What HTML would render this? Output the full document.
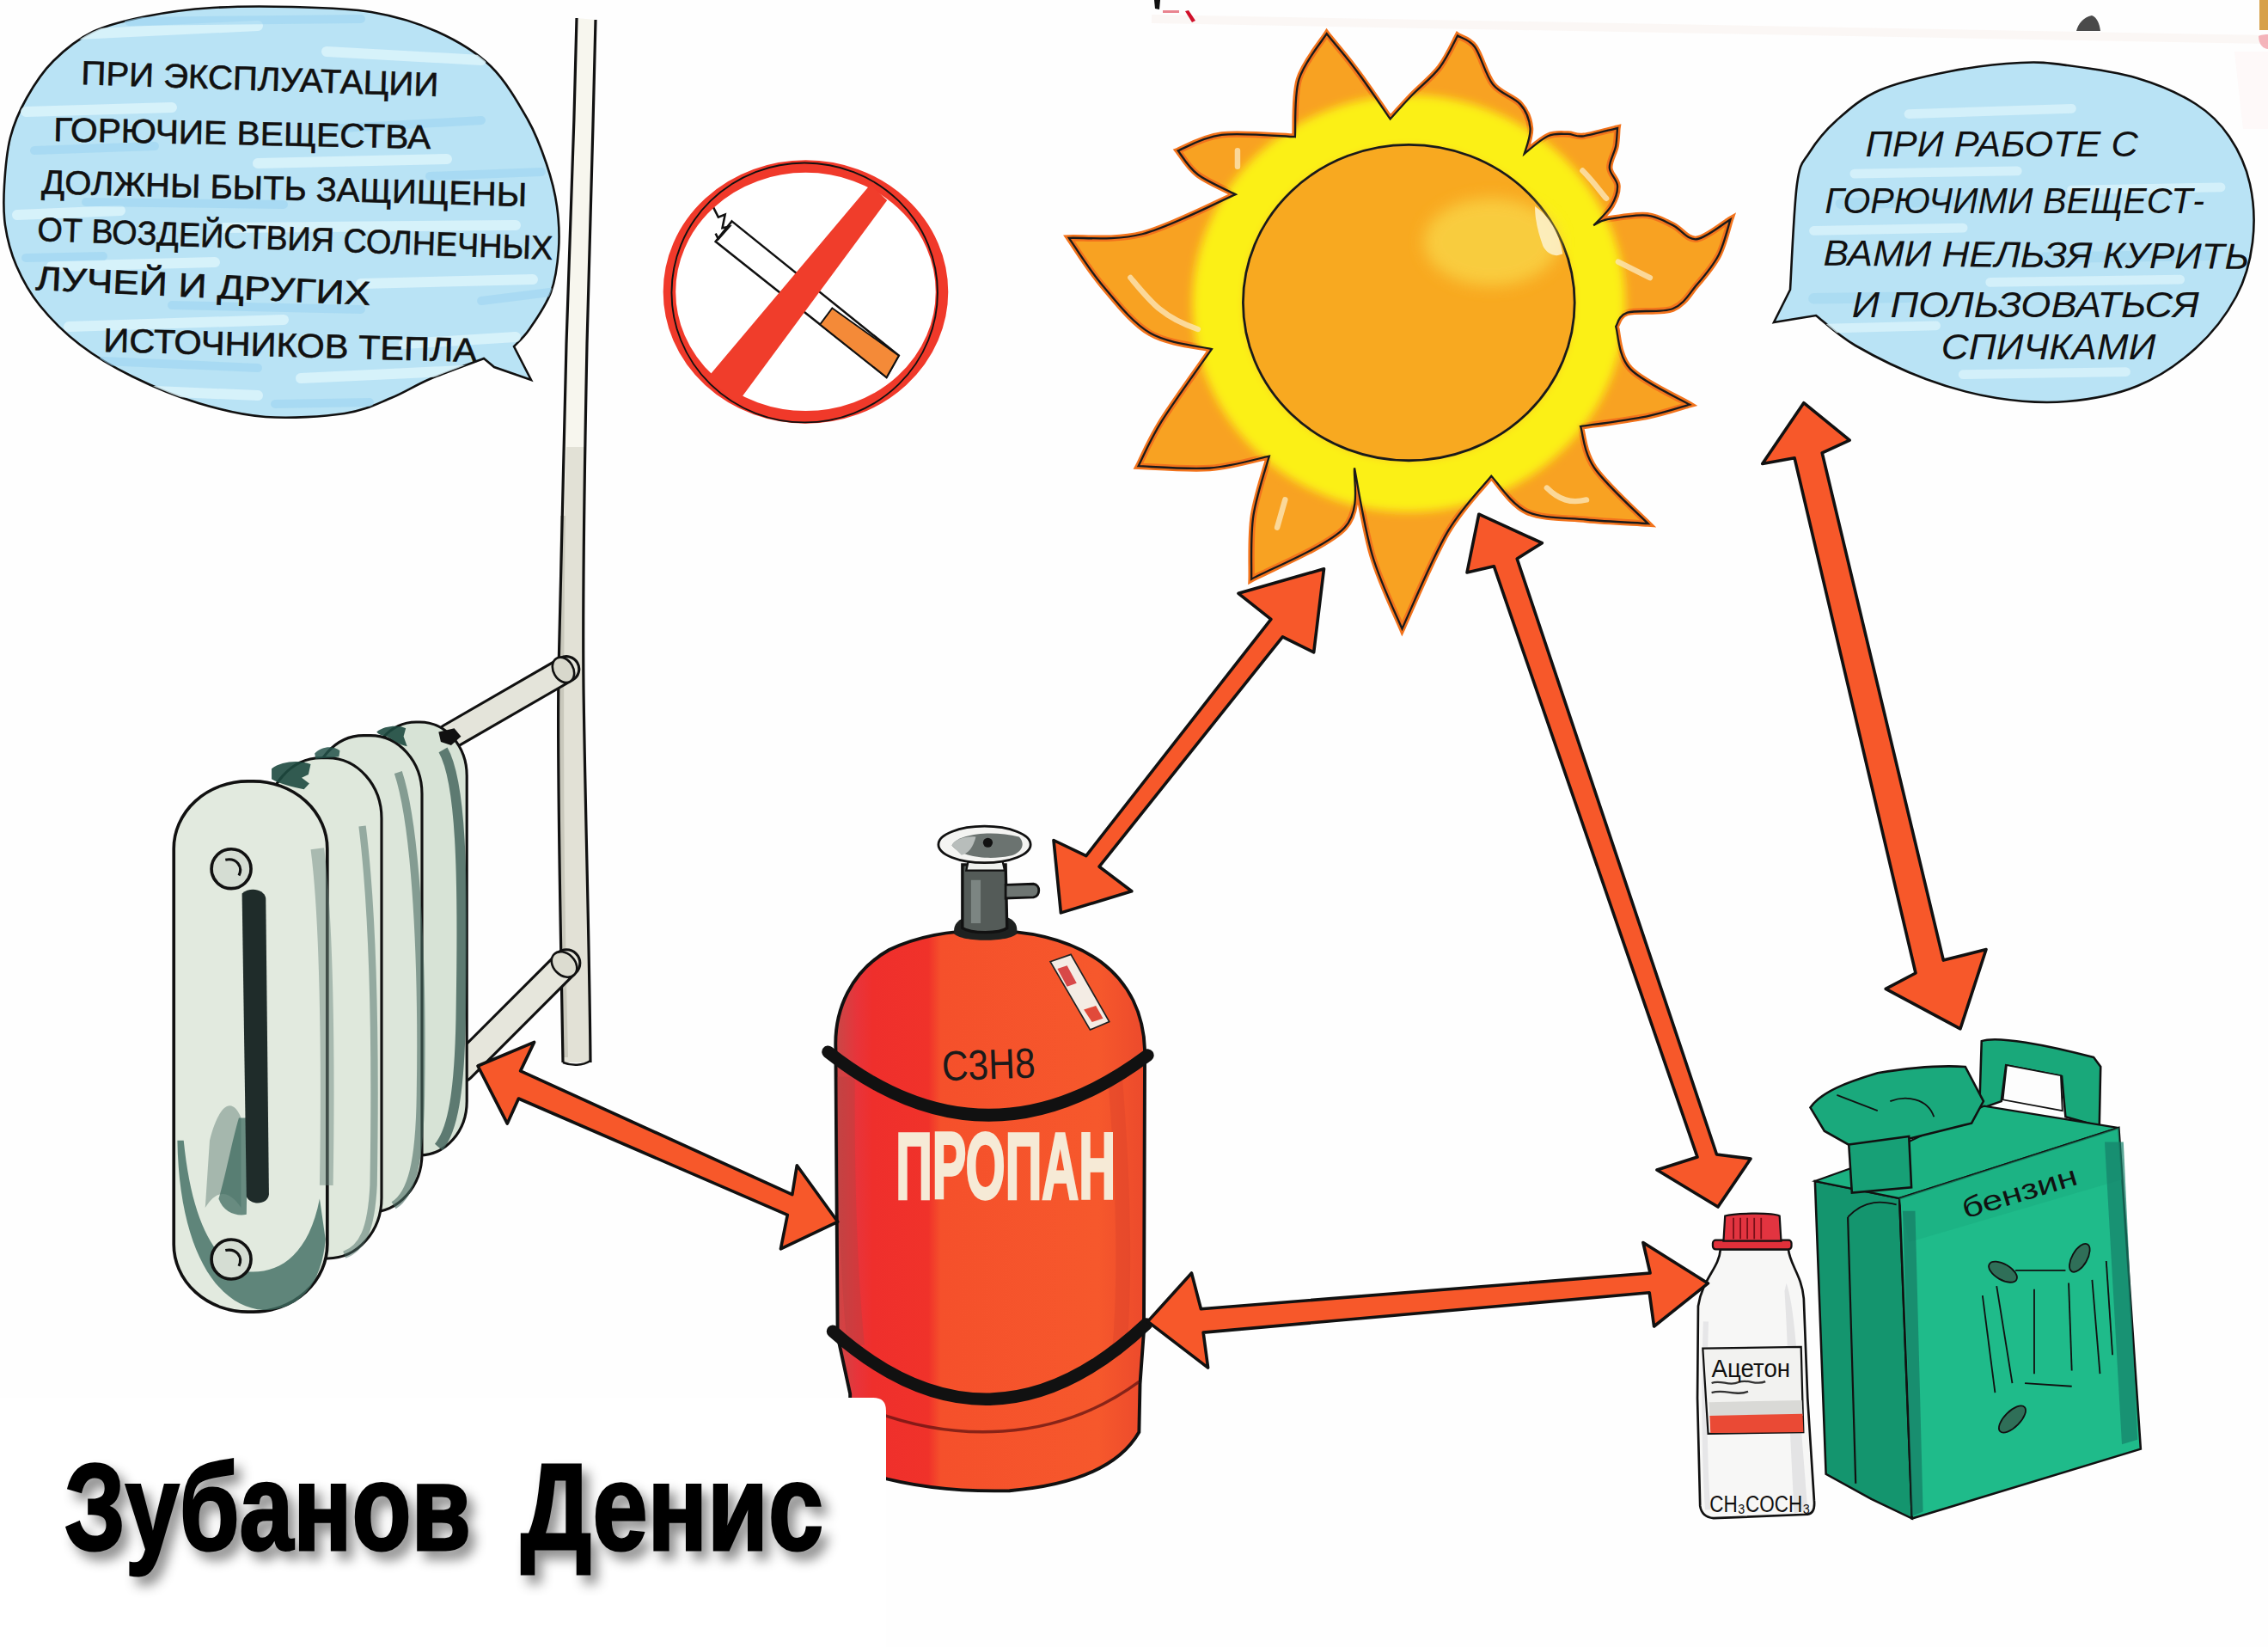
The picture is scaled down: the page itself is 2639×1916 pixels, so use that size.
<!DOCTYPE html>
<html><head><meta charset="utf-8"><title>Poster</title>
<style>
html,body{margin:0;padding:0;background:#fefefe;}
body{width:2639px;height:1916px;overflow:hidden;position:relative;font-family:"Liberation Sans",sans-serif;}
svg{position:absolute;left:0;top:0;display:block;}
.hw{font-family:"Liberation Sans",sans-serif;fill:#111;}
</style></head><body>
<svg width="2639" height="1916" viewBox="0 0 2639 1916" xmlns="http://www.w3.org/2000/svg">
<defs>
 <filter id="blur6" x="-20%" y="-20%" width="140%" height="140%"><feGaussianBlur stdDeviation="6"/></filter>
 <filter id="blur12" x="-30%" y="-30%" width="160%" height="160%"><feGaussianBlur stdDeviation="12"/></filter>
 <filter id="blur20" x="-30%" y="-30%" width="160%" height="160%"><feGaussianBlur stdDeviation="20"/></filter>
 <filter id="shadow" x="-10%" y="-30%" width="130%" height="170%"><feDropShadow dx="8" dy="10" stdDeviation="7" flood-color="#000" flood-opacity="0.45"/></filter>
</defs>

<!-- ===== LEFT BUBBLE ===== -->
<clipPath id="lbclip"><path d="M618.0,442.0 C614.7,435.5 601.3,409.5 598.0,403.0 C601.0,399.7 608.8,393.5 616.0,383.0 C623.2,372.5 635.3,355.5 641.0,340.0 C646.7,324.5 648.8,306.7 650.0,290.0 C651.2,273.3 650.3,256.5 648.0,240.0 C645.7,223.5 641.7,207.8 636.0,191.0 C630.3,174.2 624.8,158.0 614.0,139.0 C603.2,120.0 588.5,94.0 571.0,77.0 C553.5,60.0 532.2,47.5 509.0,37.0 C485.8,26.5 460.2,18.8 432.0,14.0 C403.8,9.2 370.8,8.8 340.0,8.0 C309.2,7.2 275.3,7.2 247.0,9.0 C218.7,10.8 193.2,14.3 170.0,19.0 C146.8,23.7 126.0,28.3 108.0,37.0 C90.0,45.7 74.8,58.2 62.0,71.0 C49.2,83.8 39.3,99.2 31.0,114.0 C22.7,128.8 16.3,143.0 12.0,160.0 C7.7,177.0 6.0,199.0 5.0,216.0 C4.0,233.0 3.7,246.5 6.0,262.0 C8.3,277.5 12.3,293.5 19.0,309.0 C25.7,324.5 33.7,339.7 46.0,355.0 C58.3,370.3 75.0,387.2 93.0,401.0 C111.0,414.8 131.0,426.7 154.0,438.0 C177.0,449.3 205.2,461.2 231.0,469.0 C256.8,476.8 280.7,483.0 309.0,485.0 C337.3,487.0 376.7,484.7 401.0,481.0 C425.3,477.3 438.5,469.7 455.0,463.0 C471.5,456.3 482.0,448.7 500.0,441.0 C518.0,433.3 552.5,421.0 563.0,417.0 C565.0,418.7 573.0,425.3 575.0,427.0 C582.2,429.5 610.8,439.5 618.0,442.0 Z"/></clipPath>
<path d="M618.0,442.0 C614.7,435.5 601.3,409.5 598.0,403.0 C601.0,399.7 608.8,393.5 616.0,383.0 C623.2,372.5 635.3,355.5 641.0,340.0 C646.7,324.5 648.8,306.7 650.0,290.0 C651.2,273.3 650.3,256.5 648.0,240.0 C645.7,223.5 641.7,207.8 636.0,191.0 C630.3,174.2 624.8,158.0 614.0,139.0 C603.2,120.0 588.5,94.0 571.0,77.0 C553.5,60.0 532.2,47.5 509.0,37.0 C485.8,26.5 460.2,18.8 432.0,14.0 C403.8,9.2 370.8,8.8 340.0,8.0 C309.2,7.2 275.3,7.2 247.0,9.0 C218.7,10.8 193.2,14.3 170.0,19.0 C146.8,23.7 126.0,28.3 108.0,37.0 C90.0,45.7 74.8,58.2 62.0,71.0 C49.2,83.8 39.3,99.2 31.0,114.0 C22.7,128.8 16.3,143.0 12.0,160.0 C7.7,177.0 6.0,199.0 5.0,216.0 C4.0,233.0 3.7,246.5 6.0,262.0 C8.3,277.5 12.3,293.5 19.0,309.0 C25.7,324.5 33.7,339.7 46.0,355.0 C58.3,370.3 75.0,387.2 93.0,401.0 C111.0,414.8 131.0,426.7 154.0,438.0 C177.0,449.3 205.2,461.2 231.0,469.0 C256.8,476.8 280.7,483.0 309.0,485.0 C337.3,487.0 376.7,484.7 401.0,481.0 C425.3,477.3 438.5,469.7 455.0,463.0 C471.5,456.3 482.0,448.7 500.0,441.0 C518.0,433.3 552.5,421.0 563.0,417.0 C565.0,418.7 573.0,425.3 575.0,427.0 C582.2,429.5 610.8,439.5 618.0,442.0 Z" fill="#b9e3f5" stroke="#111" stroke-width="2.6"/>
<g clip-path="url(#lbclip)">
 <g fill="none" stroke-linecap="round">
  <g stroke="#def5fc" stroke-width="12" opacity="0.8">
   <path d="M90,40 L300,30"/><path d="M380,60 L560,70"/><path d="M30,130 L200,125"/><path d="M300,190 L520,185"/>
   <path d="M20,250 L140,245"/><path d="M260,265 L600,262"/><path d="M60,310 L250,305"/><path d="M420,330 L620,325"/>
   <path d="M80,380 L330,372"/><path d="M350,440 L560,430"/><path d="M180,455 L300,460"/><path d="M470,400 L600,392"/>
  </g>
  <g stroke="#9cd4f0" stroke-width="10" opacity="0.55">
   <path d="M150,25 L420,22"/><path d="M40,175 L180,170"/><path d="M380,150 L560,140"/><path d="M100,235 L330,238"/>
   <path d="M500,205 L630,200"/><path d="M30,300 L120,298"/><path d="M200,355 L420,360"/><path d="M560,350 L640,340"/>
   <path d="M120,420 L300,428"/><path d="M320,470 L430,468"/>
  </g>
 </g>
</g>
<g class="hw" font-size="39" stroke="#111" stroke-width="0.6">
 <text x="94" y="98" textLength="416" lengthAdjust="spacingAndGlyphs" transform="rotate(1.93 94 98)">ПРИ ЭКСПЛУАТАЦИИ</text>
 <text x="62" y="164" textLength="439" lengthAdjust="spacingAndGlyphs" transform="rotate(1.17 62 164)">ГОРЮЧИЕ ВЕЩЕСТВА</text>
 <text x="48" y="225" textLength="565" lengthAdjust="spacingAndGlyphs" transform="rotate(1.52 48 225)">ДОЛЖНЫ БЫТЬ ЗАЩИЩЕНЫ</text>
 <text x="43" y="280" textLength="600" lengthAdjust="spacingAndGlyphs" transform="rotate(2.10 43 280)">ОТ ВОЗДЕЙСТВИЯ СОЛНЕЧНЫХ</text>
 <text x="41" y="337" textLength="390" lengthAdjust="spacingAndGlyphs" transform="rotate(2.64 41 337)">ЛУЧЕЙ И ДРУГИХ</text>
 <text x="120" y="409" textLength="435" lengthAdjust="spacingAndGlyphs" transform="rotate(1.58 120 409)">ИСТОЧНИКОВ ТЕПЛА</text>
</g>

<!-- ===== VERTICAL PIPE ===== -->
<g id="pipe">
 <path d="M671,21 C668,150 663,300 659,400 C655,550 651,700 650,780 C648,900 652,1050 655,1236 L687,1236 C686,1100 681,950 679,800 C678,700 681,500 683,400 C686,300 690,150 693,23 Z" fill="#f7f6ee"/>
 <path d="M659,520 C655,650 651,720 650,780 C648,900 652,1050 655,1236 L687,1236 C686,1100 681,950 679,800 C678,700 681,600 682,520 Z" fill="#e2e1d6"/>
 <path d="M655,600 C652,800 652,1000 658,1230" stroke="#c9c8bc" stroke-width="6" fill="none"/>
 <path d="M671,21 C668,150 663,300 659,400 C655,550 651,700 650,780 C648,900 652,1050 655,1236" fill="none" stroke="#111" stroke-width="3.2"/>
 <path d="M693,23 C690,150 686,300 683,400 C681,500 678,700 679,800 C681,950 686,1100 687,1236" fill="none" stroke="#111" stroke-width="3.2"/>
 <path d="M655,1236 C665,1240 678,1240 687,1234" fill="none" stroke="#111" stroke-width="2.5"/>
</g>


<!-- ===== RADIATOR ===== -->
<g id="radiator" transform="translate(150,700) scale(0.52219)">
 <!-- connectors -->
 <path d="M715,300 L975,150" stroke="#111" stroke-width="62" stroke-linecap="round"/>
 <path d="M715,300 L975,150" stroke="#e4e4da" stroke-width="50" stroke-linecap="round"/>
 <ellipse cx="968" cy="152" rx="22" ry="30" fill="#d8d8cc" stroke="#111" stroke-width="5" transform="rotate(-30 968 152)"/>
 <path d="M740,1040 L975,805" stroke="#111" stroke-width="66" stroke-linecap="round"/>
 <path d="M740,1040 L975,805" stroke="#e6e6dc" stroke-width="54" stroke-linecap="round"/>
 <ellipse cx="970" cy="808" rx="24" ry="32" fill="#dcdcd0" stroke="#111" stroke-width="5" transform="rotate(-45 970 808)"/>
 <!-- section 4 (back) -->
 <rect x="535" y="268" width="218" height="965" rx="105" ry="120" fill="#d7e3d6" stroke="#111" stroke-width="6"/>
 <path d="M700,330 C740,400 745,600 740,900 C738,1100 720,1180 690,1215" fill="none" stroke="#3f5f58" stroke-width="22" opacity="0.8"/>
 <!-- section 3 -->
 <rect x="408" y="298" width="245" height="1062" rx="115" ry="130" fill="#dce6da" stroke="#111" stroke-width="6"/>
 <path d="M600,380 C640,500 655,800 650,1100 C648,1250 630,1320 590,1345" fill="none" stroke="#4a6b63" stroke-width="18" opacity="0.6"/>
 <!-- section 2 -->
 <rect x="308" y="348" width="255" height="1115" rx="120" ry="135" fill="#dfe8dc" stroke="#111" stroke-width="6"/>
 <path d="M520,500 C545,700 550,1000 545,1300 C540,1400 520,1440 480,1455" fill="none" stroke="#4a6b63" stroke-width="16" opacity="0.5"/>
 <!-- front section -->
 <rect x="100" y="400" width="342" height="1182" rx="165" ry="150" fill="#e2eadf" stroke="#111" stroke-width="7"/>
 <path d="M108,1200 C112,1450 200,1572 300,1578 C380,1580 430,1520 438,1420 L425,1330 C400,1460 330,1500 260,1492 C190,1470 140,1380 122,1200 Z" fill="#3f6b60" opacity="0.8"/>
 <path d="M170,1350 C200,1300 230,1320 250,1350 L250,1150 C230,1100 200,1120 180,1200 Z" fill="#5b7a72" opacity="0.45"/>
 <path d="M420,550 C440,700 445,1000 440,1300" fill="none" stroke="#6f8a82" stroke-width="30" opacity="0.5"/>
 <!-- top blotches -->
 <path d="M318,372 C340,355 380,352 405,362 L400,385 L385,392 L402,405 L390,418 C360,412 335,405 318,395 Z" fill="#1e4a40" opacity="0.9"/>
 <path d="M414,338 C430,322 455,320 470,332 L468,345 C450,348 430,348 416,350 Z" fill="#24524a" opacity="0.85"/>
 <path d="M552,290 C570,276 600,274 617,282 L612,300 L620,322 C600,318 585,305 575,300 C565,298 556,296 552,290 Z" fill="#1e4a40" opacity="0.9"/>
 <path d="M690,290 L725,282 L740,300 L718,320 L695,312 Z" fill="#111"/>
 <path d="M245,1150 C230,1200 215,1280 200,1330 C210,1360 240,1370 262,1365 L265,1150 Z" fill="#3f6b60" opacity="0.75"/>
 <!-- slot -->
 <path d="M252,650 C270,635 300,640 305,660 L312,1320 C310,1345 270,1345 262,1325 Z" fill="#1f2c2a"/>
 <!-- bolts -->
 <circle cx="228" cy="595" r="44" fill="#d5ddd3" stroke="#111" stroke-width="7"/>
 <path d="M215,575 C240,570 255,590 245,610" fill="none" stroke="#111" stroke-width="6"/>
 <circle cx="228" cy="1465" r="44" fill="#d5ddd3" stroke="#111" stroke-width="7"/>
 <path d="M215,1445 C240,1440 255,1460 245,1480" fill="none" stroke="#111" stroke-width="6"/>
</g>

<!-- ===== NO SMOKING ===== -->
<g id="nosmoke" transform="translate(700,0) scale(0.31579)">
 <ellipse cx="752" cy="1075" rx="500" ry="460" fill="#fff"/>
 <!-- cigarette -->
 <path d="M480,815 L1095,1310 L1050,1390 L420,890 Z" fill="#fff" stroke="#111" stroke-width="8"/>
 <path d="M850,1135 L1095,1310 L1050,1390 L805,1195 Z" fill="#f48a38" stroke="#111" stroke-width="6"/>
 <path d="M405,750 L430,800 L455,790 L445,840 L470,835 L430,880 L420,860" fill="none" stroke="#111" stroke-width="8"/>
 <!-- ring -->
 <ellipse cx="752" cy="1075" rx="502" ry="462" fill="none" stroke="#f0392a" stroke-width="46"/>
 <ellipse cx="748" cy="1078" rx="490" ry="478" fill="none" stroke="#111" stroke-width="6"/>
 <!-- bar -->
 <path d="M990,680 L1052,738 L500,1485 L390,1392 Z" fill="#f03d2b"/>
</g>


<!-- ===== SUN ===== -->
<g id="sun" transform="translate(1200,0) scale(0.46145)">
 <clipPath id="sunclip"><path d="M665,345 C667,321 662,243 675,200 C688,157 733,104 745,85 C752,94 772,118 790,140 C808,162 831,193 850,220 C869,247 896,287 905,300 C914,290 939,262 960,240 C981,218 1011,195 1030,170 C1049,145 1068,103 1075,90 C1082,95 1103,98 1118,118 C1133,138 1145,189 1164,213 C1183,237 1217,245 1233,263 C1249,281 1256,302 1258,323 C1260,344 1246,377 1243,388 C1253,380 1285,351 1303,343 C1321,335 1338,338 1353,338 C1368,338 1372,346 1393,343 C1414,340 1464,326 1478,323 C1477,330 1477,351 1474,368 C1471,385 1457,406 1458,423 C1459,440 1477,452 1478,468 C1479,484 1473,501 1463,518 C1453,535 1426,560 1418,568 C1424,566 1430,557 1453,553 C1476,549 1526,540 1553,543 C1580,546 1597,558 1618,568 C1639,578 1654,606 1678,603 C1702,600 1749,561 1763,553 C1758,568 1747,616 1733,643 C1719,670 1697,696 1678,718 C1659,740 1647,766 1618,778 C1589,790 1527,780 1503,788 C1479,796 1479,817 1474,823 C1480,841 1479,897 1510,930 C1541,963 1635,1005 1660,1020 C1642,1025 1596,1041 1550,1050 C1504,1059 1412,1071 1385,1075 C1391,1092 1392,1139 1420,1180 C1448,1221 1532,1297 1555,1320 C1529,1318 1451,1315 1400,1310 C1349,1305 1290,1308 1250,1290 C1210,1272 1175,1215 1160,1200 C1142,1223 1088,1276 1050,1340 C1012,1404 954,1544 935,1585 C922,1554 880,1468 860,1400 C840,1332 822,1217 815,1180 C811,1205 833,1283 790,1330 C747,1377 594,1438 555,1460 C556,1433 552,1352 560,1300 C568,1248 593,1175 600,1150 C575,1155 505,1176 450,1180 C395,1184 300,1176 270,1175 C280,1156 299,1109 330,1060 C361,1011 434,910 455,880 C429,873 346,867 300,840 C254,813 214,760 180,720 C146,680 109,620 95,600 C126,598 210,608 280,590 C350,572 476,507 515,490 C499,482 444,458 420,440 C396,422 378,390 370,380 C388,373 431,346 480,340 C529,334 634,344 665,345 Z"/></clipPath>
 <path d="M665,345 C667,321 662,243 675,200 C688,157 733,104 745,85 C752,94 772,118 790,140 C808,162 831,193 850,220 C869,247 896,287 905,300 C914,290 939,262 960,240 C981,218 1011,195 1030,170 C1049,145 1068,103 1075,90 C1082,95 1103,98 1118,118 C1133,138 1145,189 1164,213 C1183,237 1217,245 1233,263 C1249,281 1256,302 1258,323 C1260,344 1246,377 1243,388 C1253,380 1285,351 1303,343 C1321,335 1338,338 1353,338 C1368,338 1372,346 1393,343 C1414,340 1464,326 1478,323 C1477,330 1477,351 1474,368 C1471,385 1457,406 1458,423 C1459,440 1477,452 1478,468 C1479,484 1473,501 1463,518 C1453,535 1426,560 1418,568 C1424,566 1430,557 1453,553 C1476,549 1526,540 1553,543 C1580,546 1597,558 1618,568 C1639,578 1654,606 1678,603 C1702,600 1749,561 1763,553 C1758,568 1747,616 1733,643 C1719,670 1697,696 1678,718 C1659,740 1647,766 1618,778 C1589,790 1527,780 1503,788 C1479,796 1479,817 1474,823 C1480,841 1479,897 1510,930 C1541,963 1635,1005 1660,1020 C1642,1025 1596,1041 1550,1050 C1504,1059 1412,1071 1385,1075 C1391,1092 1392,1139 1420,1180 C1448,1221 1532,1297 1555,1320 C1529,1318 1451,1315 1400,1310 C1349,1305 1290,1308 1250,1290 C1210,1272 1175,1215 1160,1200 C1142,1223 1088,1276 1050,1340 C1012,1404 954,1544 935,1585 C922,1554 880,1468 860,1400 C840,1332 822,1217 815,1180 C811,1205 833,1283 790,1330 C747,1377 594,1438 555,1460 C556,1433 552,1352 560,1300 C568,1248 593,1175 600,1150 C575,1155 505,1176 450,1180 C395,1184 300,1176 270,1175 C280,1156 299,1109 330,1060 C361,1011 434,910 455,880 C429,873 346,867 300,840 C254,813 214,760 180,720 C146,680 109,620 95,600 C126,598 210,608 280,590 C350,572 476,507 515,490 C499,482 444,458 420,440 C396,422 378,390 370,380 C388,373 431,346 480,340 C529,334 634,344 665,345 Z" fill="#f8a222" stroke="#f2731c" stroke-width="16"/>
 <g clip-path="url(#sunclip)">
  <ellipse cx="952" cy="765" rx="478" ry="458" fill="none" stroke="#fbf014" stroke-width="135" filter="url(#blur12)"/>
  <g fill="none" stroke="#fbe6b8" stroke-width="14" stroke-linecap="round" opacity="0.8">
   <path d="M250,700 C300,760 330,800 420,830"/><path d="M1480,660 L1560,700"/><path d="M1300,1230 C1330,1260 1360,1270 1400,1260"/>
   <path d="M640,1260 L620,1330"/><path d="M1390,430 C1420,460 1440,490 1450,500"/><path d="M520,380 L520,420"/>
  </g>
 </g>
 <path d="M665,345 C667,321 662,243 675,200 C688,157 733,104 745,85 C752,94 772,118 790,140 C808,162 831,193 850,220 C869,247 896,287 905,300 C914,290 939,262 960,240 C981,218 1011,195 1030,170 C1049,145 1068,103 1075,90 C1082,95 1103,98 1118,118 C1133,138 1145,189 1164,213 C1183,237 1217,245 1233,263 C1249,281 1256,302 1258,323 C1260,344 1246,377 1243,388 C1253,380 1285,351 1303,343 C1321,335 1338,338 1353,338 C1368,338 1372,346 1393,343 C1414,340 1464,326 1478,323 C1477,330 1477,351 1474,368 C1471,385 1457,406 1458,423 C1459,440 1477,452 1478,468 C1479,484 1473,501 1463,518 C1453,535 1426,560 1418,568 C1424,566 1430,557 1453,553 C1476,549 1526,540 1553,543 C1580,546 1597,558 1618,568 C1639,578 1654,606 1678,603 C1702,600 1749,561 1763,553 C1758,568 1747,616 1733,643 C1719,670 1697,696 1678,718 C1659,740 1647,766 1618,778 C1589,790 1527,780 1503,788 C1479,796 1479,817 1474,823 C1480,841 1479,897 1510,930 C1541,963 1635,1005 1660,1020 C1642,1025 1596,1041 1550,1050 C1504,1059 1412,1071 1385,1075 C1391,1092 1392,1139 1420,1180 C1448,1221 1532,1297 1555,1320 C1529,1318 1451,1315 1400,1310 C1349,1305 1290,1308 1250,1290 C1210,1272 1175,1215 1160,1200 C1142,1223 1088,1276 1050,1340 C1012,1404 954,1544 935,1585 C922,1554 880,1468 860,1400 C840,1332 822,1217 815,1180 C811,1205 833,1283 790,1330 C747,1377 594,1438 555,1460 C556,1433 552,1352 560,1300 C568,1248 593,1175 600,1150 C575,1155 505,1176 450,1180 C395,1184 300,1176 270,1175 C280,1156 299,1109 330,1060 C361,1011 434,910 455,880 C429,873 346,867 300,840 C254,813 214,760 180,720 C146,680 109,620 95,600 C126,598 210,608 280,590 C350,572 476,507 515,490 C499,482 444,458 420,440 C396,422 378,390 370,380 C388,373 431,346 480,340 C529,334 634,344 665,345 Z" fill="none" stroke="#1a1a1a" stroke-width="5"/>
 <ellipse cx="952" cy="763" rx="418" ry="398" fill="#f8a920" stroke="#1a1a1a" stroke-width="6"/>
 <ellipse cx="1160" cy="610" rx="170" ry="110" fill="#f9d84a" opacity="0.75" filter="url(#blur20)"/>
 <path d="M1270,520 C1300,540 1330,580 1340,640 C1320,650 1300,640 1290,620 C1280,590 1270,560 1270,520 Z" fill="#fdf3d0" opacity="0.85"/>
 
</g>


<!-- ===== RIGHT BUBBLE ===== -->
<clipPath id="rbclip"><path d="M2064.0,375.0 C2072.2,373.7 2104.8,368.3 2113.0,367.0 C2120.7,372.8 2137.7,389.7 2159.0,402.0 C2180.3,414.3 2213.7,430.8 2241.0,441.0 C2268.3,451.2 2295.7,458.7 2323.0,463.0 C2350.3,467.3 2377.7,469.3 2405.0,467.0 C2432.3,464.7 2462.0,459.3 2487.0,449.0 C2512.0,438.7 2535.8,422.3 2555.0,405.0 C2574.2,387.7 2591.0,365.5 2602.0,345.0 C2613.0,324.5 2618.3,303.8 2621.0,282.0 C2623.7,260.2 2622.5,234.5 2618.0,214.0 C2613.5,193.5 2604.5,174.5 2594.0,159.0 C2583.5,143.5 2572.8,132.3 2555.0,121.0 C2537.2,109.7 2512.0,98.5 2487.0,91.0 C2462.0,83.5 2427.7,79.0 2405.0,76.0 C2382.3,73.0 2373.7,71.8 2351.0,73.0 C2328.3,74.2 2296.3,77.7 2269.0,83.0 C2241.7,88.3 2209.0,95.5 2187.0,105.0 C2165.0,114.5 2150.7,127.8 2137.0,140.0 C2123.3,152.2 2112.7,165.7 2105.0,178.0 C2097.3,190.3 2094.7,187.5 2091.0,214.0 C2087.3,240.5 2084.3,316.5 2083.0,337.0 C2079.8,343.3 2067.2,368.7 2064.0,375.0 Z"/></clipPath>
<path d="M2064.0,375.0 C2072.2,373.7 2104.8,368.3 2113.0,367.0 C2120.7,372.8 2137.7,389.7 2159.0,402.0 C2180.3,414.3 2213.7,430.8 2241.0,441.0 C2268.3,451.2 2295.7,458.7 2323.0,463.0 C2350.3,467.3 2377.7,469.3 2405.0,467.0 C2432.3,464.7 2462.0,459.3 2487.0,449.0 C2512.0,438.7 2535.8,422.3 2555.0,405.0 C2574.2,387.7 2591.0,365.5 2602.0,345.0 C2613.0,324.5 2618.3,303.8 2621.0,282.0 C2623.7,260.2 2622.5,234.5 2618.0,214.0 C2613.5,193.5 2604.5,174.5 2594.0,159.0 C2583.5,143.5 2572.8,132.3 2555.0,121.0 C2537.2,109.7 2512.0,98.5 2487.0,91.0 C2462.0,83.5 2427.7,79.0 2405.0,76.0 C2382.3,73.0 2373.7,71.8 2351.0,73.0 C2328.3,74.2 2296.3,77.7 2269.0,83.0 C2241.7,88.3 2209.0,95.5 2187.0,105.0 C2165.0,114.5 2150.7,127.8 2137.0,140.0 C2123.3,152.2 2112.7,165.7 2105.0,178.0 C2097.3,190.3 2094.7,187.5 2091.0,214.0 C2087.3,240.5 2084.3,316.5 2083.0,337.0 C2079.8,343.3 2067.2,368.7 2064.0,375.0 Z" fill="#b9e3f5" stroke="#111" stroke-width="2.6"/>
<g clip-path="url(#rbclip)"><g id="rbubble" transform="translate(2000,0) scale(0.31572)">
 
 <g fill="none" stroke="#dcf4fb" stroke-width="34" stroke-linecap="round" opacity="0.75">
  <path d="M500,640 L1100,630"/><path d="M1300,700 L1850,690"/><path d="M350,850 L900,840"/>
  <path d="M1000,1040 L1700,1030"/><path d="M400,1210 L800,1200"/><path d="M900,1380 L1500,1370"/><path d="M700,420 L1300,400"/>
 </g>
 <g fill="none" stroke="#92cfee" stroke-width="40" stroke-linecap="round" opacity="0.35">
  <path d="M450,750 L1000,740"/><path d="M1200,950 L1800,940"/><path d="M350,1100 L700,1095"/>
 </g>
 
</g></g>
<g transform="translate(2000,0) scale(0.31572)"><g class="hw" font-size="134" font-style="italic">
  <text x="540" y="575" textLength="1005" lengthAdjust="spacingAndGlyphs">ПРИ РАБОТЕ С</text>
  <text x="390" y="785" textLength="1400" lengthAdjust="spacingAndGlyphs">ГОРЮЧИМИ ВЕЩЕСТ-</text>
  <text x="385" y="978" textLength="1570" lengthAdjust="spacingAndGlyphs" transform="rotate(0.5 385 978)">ВАМИ НЕЛЬЗЯ КУРИТЬ</text>
  <text x="490" y="1170" textLength="1280" lengthAdjust="spacingAndGlyphs">И ПОЛЬЗОВАТЬСЯ</text>
  <text x="820" y="1325" textLength="790" lengthAdjust="spacingAndGlyphs">СПИЧКАМИ</text>
 </g></g>


<!-- ===== PROPANE CYLINDER ===== -->
<g id="cylinder" transform="translate(940,940) scale(0.55851)">
 <linearGradient id="cylg" x1="0" x2="1" y1="0" y2="0">
  <stop offset="0" stop-color="#c84848"/><stop offset="0.07" stop-color="#e8343a"/><stop offset="0.12" stop-color="#ef2f2c"/>
  <stop offset="0.30" stop-color="#f0322a"/><stop offset="0.34" stop-color="#f5502b"/><stop offset="0.85" stop-color="#f6582c"/><stop offset="1" stop-color="#ec4a2c"/>
 </linearGradient>
 <!-- body -->
 <path d="M58,500 C55,420 90,340 170,295 C240,262 310,255 370,255 C450,255 540,270 610,320 C670,365 700,430 702,505 L700,1090 L692,1200 L690,1300 C650,1370 560,1410 420,1422 C300,1425 200,1410 120,1385 L90,1370 L88,1220 L62,1100 Z" fill="url(#cylg)" stroke="#111" stroke-width="7"/>
 <!-- shading -->
 <path d="M80,560 C78,800 88,1000 100,1120" stroke="#b84040" stroke-width="36" fill="none" opacity="0.45"/>
 <path d="M640,560 C660,800 660,1000 650,1120" stroke="#d8402a" stroke-width="30" fill="none" opacity="0.35"/>
 
 <!-- skirt line -->
 <path d="M95,1240 C300,1330 520,1320 690,1195" stroke="#5a1010" stroke-width="6" fill="none" opacity="0.7"/>
 <!-- bands -->
 <path d="M42,508 Q370,768 708,515" stroke="#111" stroke-width="26" fill="none" stroke-linecap="round"/>
 <path d="M52,1090 Q380,1380 705,1075" stroke="#111" stroke-width="26" fill="none" stroke-linecap="round"/>
 <!-- valve -->
 <path d="M305,262 C300,232 330,222 370,222 C420,222 440,234 435,262 C420,280 320,280 305,262 Z" fill="#1e2120"/>
 <path d="M322,118 L412,118 L415,250 C400,262 340,262 322,250 Z" fill="#545b58" stroke="#111" stroke-width="6"/>
 <path d="M340,150 L360,150 L360,240 L340,240 Z" fill="#7c8582"/>
 <path d="M335,108 L405,108 L410,130 L330,130 Z" fill="#eef0ee" stroke="#111" stroke-width="4"/>
 <path d="M412,160 L470,158 C485,160 485,182 470,186 L412,188 Z" fill="#6e7572" stroke="#111" stroke-width="5"/>
 <ellipse cx="368" cy="76" rx="96" ry="38" fill="#f4f4f2" stroke="#111" stroke-width="5"/>
 <path d="M300,78 C310,55 380,45 440,60 C455,75 445,95 420,100 C380,108 320,104 300,78 Z" fill="#6b7370"/>
 <path d="M300,78 C305,65 330,58 350,60 C345,80 335,95 320,98 Z" fill="#b8bdbb"/>
 <circle cx="375" cy="72" r="10" fill="#111"/>
 <!-- sticker -->
 <path d="M505,320 L548,305 L628,445 L588,462 Z" fill="#f4ece4" stroke="#222" stroke-width="3"/>
 <path d="M520,335 L540,328 L560,365 L540,372 Z" fill="#d84848"/>
 <path d="M575,420 L600,412 L615,438 L592,446 Z" fill="#e14a3a"/>
 <!-- text -->
 <text x="280" y="568" font-family="Liberation Sans, sans-serif" font-size="88" fill="#1a1a1a" textLength="195" lengthAdjust="spacingAndGlyphs" transform="rotate(-2 280 568)">C3H8</text>
 <text x="183" y="812" font-family="Liberation Sans, sans-serif" font-weight="bold" font-size="196" fill="#f6ead6" stroke="#f6ead6" stroke-width="6" textLength="458" lengthAdjust="spacingAndGlyphs">ПРОПАН</text>
</g>


<!-- ===== BOTTLE ===== -->
<g id="bottle" transform="translate(1900,1180) scale(0.44679)">
 <path d="M228,612 C225,660 180,690 170,760 L168,1000 L175,1280 C178,1300 190,1310 210,1312 L455,1302 C470,1300 474,1285 472,1265 L455,1000 L445,740 C440,680 408,650 405,612 Z" fill="#f7f7f6" stroke="#111" stroke-width="6"/>
 <path d="M400,700 C420,760 430,900 440,1100 L455,1290 L420,1300 L410,1100 C405,900 400,800 395,720 Z" fill="#dcdcde" opacity="0.7"/>
 <path d="M190,800 C185,950 185,1150 195,1290" stroke="#e6e6e8" stroke-width="14" fill="none"/>
 <!-- cap -->
 <rect x="208" y="588" width="205" height="24" rx="8" fill="#e0303a" stroke="#111" stroke-width="5"/>
 <path d="M240,525 C260,518 360,515 382,525 L386,590 L236,590 Z" fill="#e23440" stroke="#111" stroke-width="5"/>
 <g stroke="#7a1018" stroke-width="4"><path d="M262,530 L262,585"/><path d="M280,530 L280,585"/><path d="M298,530 L298,585"/><path d="M316,530 L316,585"/><path d="M334,530 L334,585"/></g>
 <!-- label -->
 <path d="M182,870 L438,866 L444,1088 L196,1092 Z" fill="#f2f2f0" stroke="#111" stroke-width="5"/>
 <path d="M198,1010 L440,1005 L442,1045 L200,1048 Z" fill="#d9d9d6"/>
 <path d="M200,1045 L442,1040 L444,1088 L202,1090 Z" fill="#ea4a35"/>
 <path d="M205,960 C230,950 250,970 275,958 C300,948 320,968 345,956" stroke="#333" stroke-width="5" fill="none"/>
 <path d="M205,985 C240,975 270,995 300,982" stroke="#333" stroke-width="5" fill="none"/>
 <text x="205" y="945" font-family="Liberation Sans, sans-serif" font-size="66" fill="#111" textLength="205" lengthAdjust="spacingAndGlyphs">Ацетон</text>
 <text x="200" y="1295" font-family="Liberation Sans, sans-serif" font-size="60" fill="#111" textLength="262" lengthAdjust="spacingAndGlyphs">CH₃COCH₃</text>
</g>

<!-- ===== JERRYCAN ===== -->
<g id="jerrycan" transform="translate(2090,1190) scale(0.36443)">
 <!-- handle -->
 <path d="M592,58 C640,40 800,70 950,110 L972,140 L968,330 L860,300 L848,170 L670,135 L655,250 L585,275 Z" fill="#19a87a" stroke="#111" stroke-width="7"/>
 <path d="M672,135 L845,168 L850,280 L660,245 Z" fill="#fdfdfd" stroke="#111" stroke-width="5"/>
 <!-- left side face -->
 <path d="M60,505 L330,560 L370,1582 L240,1520 L95,1440 Z" fill="#14956e" stroke="#111" stroke-width="7"/>
 <!-- top face -->
 <path d="M60,505 L200,455 L600,265 L1030,335 L330,560 Z" fill="#1cb282" stroke="#111" stroke-width="6"/>
 <!-- front face -->
 <path d="M330,560 L1030,335 L1100,1360 L370,1582 Z" fill="#1fbb8a" stroke="#111" stroke-width="7"/>
 <path d="M330,560 L1030,335 L1040,500 L360,700 Z" fill="#1aae80" opacity="0.6"/>
 <path d="M985,380 L1045,380 L1090,1330 L1040,1345 Z" fill="#16806a" opacity="0.7"/>
 <path d="M340,600 L380,600 L405,1560 L370,1575 Z" fill="#157a64" opacity="0.7"/>
 <!-- left face detail lines -->
 <path d="M165,620 L190,1470" stroke="#111" stroke-width="6" fill="none"/>
 <path d="M165,620 C220,560 280,570 320,580" stroke="#111" stroke-width="5" fill="none"/>
 <!-- emboss X -->
 <g stroke="#111" stroke-width="5" fill="none">
  <path d="M595,870 L635,1180"/><path d="M640,840 L690,1150"/><path d="M945,820 L970,1120"/><path d="M990,760 L1010,1060"/>
  <path d="M700,790 L860,790"/><path d="M730,1150 L880,1160"/>
  <path d="M760,850 L760,1120"/><path d="M870,830 L880,1110"/>
 </g>
 <ellipse cx="660" cy="795" rx="50" ry="25" transform="rotate(30 660 795)" fill="#2f6f58" stroke="#111" stroke-width="5"/>
 <ellipse cx="905" cy="750" rx="50" ry="24" transform="rotate(-60 905 750)" fill="#2f6f58" stroke="#111" stroke-width="5"/>
 <ellipse cx="690" cy="1265" rx="55" ry="25" transform="rotate(-45 690 1265)" fill="#2f6f58" stroke="#111" stroke-width="5"/>
 <!-- spout -->
 <path d="M45,270 C80,220 160,190 260,160 C380,140 470,135 540,140 L598,250 L560,320 L440,350 L360,370 L250,390 L170,390 L90,345 Z" fill="#1aa97c" stroke="#111" stroke-width="7"/>
 <path d="M168,388 L360,362 L368,525 L178,542 Z" fill="#17a076" stroke="#111" stroke-width="7"/>
 <path d="M300,250 C350,230 420,240 440,300" stroke="#111" stroke-width="5" fill="none"/>
 <path d="M130,230 L260,280" stroke="#111" stroke-width="5" fill="none"/>
 <text x="540" y="625" font-family="Liberation Sans, sans-serif" font-size="90" fill="#111" textLength="380" lengthAdjust="spacingAndGlyphs" transform="rotate(-17 540 625)">бензин</text>
</g>


<!-- ===== ARROWS ===== -->
<g fill="#f7582a" stroke="#111" stroke-width="3.6" stroke-linejoin="round">
 <polygon points="556.0,1240.0 621.6,1212.4 605.6,1245.9 921.8,1389.7 927.3,1355.8 974.7,1421.3 908.4,1452.8 916.3,1413.4 603.4,1278.0 590.3,1307.1"/>
 <polygon points="1234.4,1061.9 1226.0,977.5 1263.8,995.6 1478.9,720.3 1441.0,690.3 1540.5,661.8 1528.7,758.9 1492.4,740.8 1279.1,1008.2 1316.8,1036.8"/>
 <polygon points="1720.8,598.2 1794.3,631.7 1765.2,650.0 1997.5,1343.0 2037.0,1348.0 1999.0,1404.0 1928.0,1361.0 1975.0,1346.0 1738.3,658.7 1707.0,666.0"/>
 <polygon points="1335.5,1537.4 1386.5,1481.0 1397.4,1522.8 1920.1,1481.0 1911.9,1445.5 1987.5,1492.9 1924.6,1543.0 1919.2,1503.8 1400.1,1550.1 1405.6,1591.1"/>
 <polygon points="2098.8,468.7 2152.2,512.1 2120.2,526.8 2261.3,1117.1 2311.0,1104.5 2281.0,1196.8 2194.2,1150.3 2229.0,1132.0 2088.1,532.8 2050.7,539.5"/>
</g>

<!-- ===== PAPER EDGE DETAILS ===== -->
<path d="M1340,22 C1700,26 2100,36 2639,46" stroke="#f6ebe4" stroke-width="10" fill="none" opacity="0.35"/>
<path d="M1343,0 L1350,0 L1349,11 L1344,10 Z" fill="#111"/>
<path d="M1353,12 L1372,12 L1372,15 L1353,15 Z" fill="#e05060" opacity="0.7"/>
<path d="M1379,13 L1383,12 L1391,24 L1387,26 Z" fill="#d0102a"/>
<path d="M2416,36 C2418,28 2424,20 2434,18 C2440,20 2443,28 2444,36 Z" fill="#4a4a4a"/>
<rect x="2629" y="0" width="10" height="35" fill="#d7a048"/>
<path d="M2628,42 C2632,40 2639,40 2639,40 L2639,57 C2634,57 2628,52 2628,42 Z" fill="#f2a3ab" opacity="0.8"/>
<path d="M2600,60 L2639,60 L2639,150 L2610,150 Z" fill="#fdf3f4" opacity="0.5"/>

<!-- ===== NAME ===== -->
<path d="M0,1626 L1016,1626 Q1031,1626 1031,1641 L1031,1916 L0,1916 Z" fill="#ffffff"/>
<g font-family="Liberation Sans, sans-serif" font-weight="bold" font-size="143" fill="#000" stroke="#000" stroke-width="3" filter="url(#shadow)">
 <text x="75" y="1803" textLength="473" lengthAdjust="spacingAndGlyphs">Зубанов</text>
 <text x="606" y="1803" textLength="352" lengthAdjust="spacingAndGlyphs">Денис</text>
</g>

</svg>
</body></html>
